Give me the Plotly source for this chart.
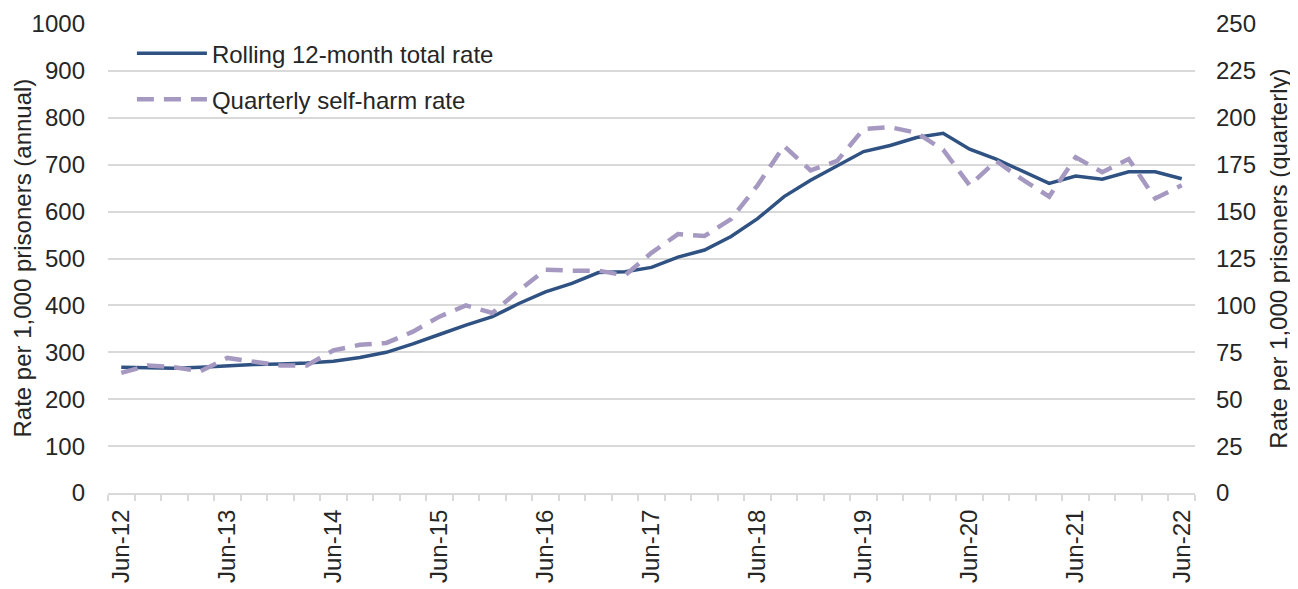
import plotly.graph_objects as go

quarters = []
for yr in range(12, 23):
    for m in ["Mar", "Jun", "Sep", "Dec"]:
        quarters.append(f"{m}-{yr}")
quarters = quarters[quarters.index("Jun-12"): quarters.index("Jun-22") + 1]

rolling_12m = [268, 267, 266, 268, 271, 274, 275, 277, 281, 289, 300, 318, 338,
               358, 376, 404, 429, 447, 470, 472, 481, 503, 518, 547, 585, 632,
               667, 697, 728, 741, 758, 767, 733, 712, 686, 660, 676, 669, 685,
               685, 670]

quarterly = [64, 68, 67, 65, 72, 70, 68, 68, 76, 79, 80, 86, 94, 100, 96, 108,
             119, 118.5, 118.5, 116, 128, 138, 137, 146, 164, 185, 172, 177,
             194, 195, 192, 183, 164, 177, 167, 158, 179, 171, 178, 157, 164]

x = list(range(len(quarters)))
label_idx = [i for i, q in enumerate(quarters) if q.startswith("Jun")]
label_txt = [quarters[i] for i in label_idx]

FONT = "Liberation Sans, Arial, sans-serif"
TXT = "#262626"
GRID = "#D9D9D9"

fig = go.Figure()
fig.add_trace(go.Scatter(
    x=x, y=rolling_12m, mode="lines", name="Rolling 12-month total rate",
    line=dict(color="#2F5283", width=3.5), legendgroup="a", yaxis="y"))
fig.add_trace(go.Scatter(
    x=x, y=quarterly, mode="lines", name="Quarterly self-harm rate",
    line=dict(color="#A699C1", width=4.5, dash="17px,10px"), legendgroup="b", yaxis="y2"))

fig.update_layout(
    width=1298, height=589,
    margin=dict(l=100, r=111, t=16, b=104, autoexpand=False),
    paper_bgcolor="white", plot_bgcolor="white",
    font=dict(family=FONT, size=24, color=TXT),
    showlegend=True,
    legend=dict(x=0.022, y=0.985, xanchor="left", yanchor="top",
                bgcolor="rgba(0,0,0,0)", font=dict(size=24, color=TXT),
                tracegroupgap=12, itemwidth=70),
    xaxis=dict(
        range=[-0.5, len(quarters) - 0.5], tickmode="array",
        tickvals=label_idx, ticktext=label_txt, tickangle=-90, ticks="",
        showgrid=False, zeroline=False, showline=True, linecolor=GRID, linewidth=2,
        tickfont=dict(size=24, color=TXT), ticklabelstandoff=5,
        minor=dict(tickmode="array", tickvals=[k - 0.5 for k in range(len(quarters) + 1)],
                   ticks="outside", ticklen=6, tickcolor=GRID, tickwidth=1.5, showgrid=False),
    ),
    yaxis=dict(
        range=[0, 1000], tickmode="linear", tick0=0, dtick=100,
        showgrid=True, gridcolor=GRID, gridwidth=1.5, zeroline=False,
        showline=False, ticks="", tickfont=dict(size=24, color=TXT),
        ticklabelstandoff=22,
    ),
    yaxis2=dict(
        range=[0, 250], tickmode="linear", tick0=0, dtick=25, overlaying="y",
        side="right", showgrid=False, zeroline=False, showline=False, ticks="",
        tickfont=dict(size=24, color=TXT), ticklabelstandoff=20,
    ),
    annotations=[
        dict(text="Rate per 1,000 prisoners (annual)", textangle=-90,
             xref="paper", yref="paper", x=-0.0791, y=0.5, xanchor="center",
             yanchor="middle", showarrow=False, font=dict(size=24, color=TXT)),
        dict(text="Rate per 1,000 prisoners (quarterly)", textangle=-90,
             xref="paper", yref="paper", x=1.0765, y=0.5, xanchor="center",
             yanchor="middle", showarrow=False, font=dict(size=24, color=TXT)),
    ],
)

fig.write_html("out.html")
